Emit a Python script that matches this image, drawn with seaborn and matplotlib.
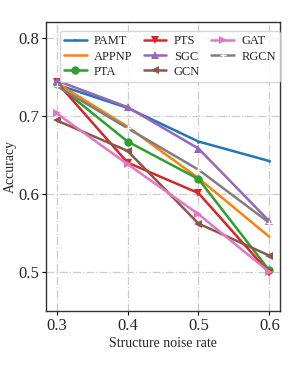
import numpy as np
import pandas as pd
import matplotlib
matplotlib.use('Agg')
import matplotlib.pyplot as plt
import seaborn as sns

# Data
noise_rate = [0.3, 0.4, 0.5, 0.6]
methods = ['PAMT', 'APPNP', 'PTA', 'PTS', 'SGC', 'GCN', 'GAT', 'RGCN']
pamt = [0.740, 0.710, 0.667, 0.642]
appnp = [0.742, 0.686, 0.620, 0.545]
pta = [0.740, 0.667, 0.619, 0.502]
pts = [0.743, 0.640, 0.601, 0.499]
sgc = [0.745, 0.711, 0.658, 0.565]
gcn = [0.694, 0.655, 0.562, 0.521]
gat = [0.703, 0.638, 0.574, 0.500]
rgcn = [0.738, 0.684, 0.631, 0.563]

values = [pamt, appnp, pta, pts, sgc, gcn, gat, rgcn]
markers = ['.', '', 'o', 'v', '^', '<', '>', '+']
msizes = [4, 0, 6, 6, 6, 6, 6, 4]

sns.set_style('whitegrid')
plt.rcParams['font.family'] = 'serif'
plt.rcParams['font.serif'] = ['Liberation Serif', 'Times New Roman', 'DejaVu Serif']

fig = plt.figure(figsize=(3.05, 3.66), dpi=100)
ax = fig.add_axes([0.151, 0.150, 0.767, 0.790])

colors = sns.color_palette('tab10')
for i, name in enumerate(methods):
    df = pd.DataFrame({'x': noise_rate, 'y': values[i]})
    sns.lineplot(data=df, x='x', y='y', ax=ax, color=colors[i],
                 marker=markers[i] if markers[i] else None,
                 markersize=msizes[i], markeredgewidth=1 if markers[i] == '+' else 0,
                 linewidth=1.8, label=name)

ax.set_xlim(0.285, 0.615)
ax.set_ylim(0.45, 0.82)
ax.set_xticks([0.3, 0.4, 0.5, 0.6])
ax.set_yticks([0.5, 0.6, 0.7, 0.8])
ax.tick_params(axis='both', labelsize=12, length=3, color='black', direction='out',
               bottom=True, left=True, pad=2)
ax.set_xlabel('Structure noise rate', fontsize=10, labelpad=2)
ax.set_ylabel('Accuracy', fontsize=10, labelpad=1)

ax.grid(True, linestyle='-.', color='#cccccc', linewidth=0.9)
for s in ax.spines.values():
    s.set_color('#333333')
    s.set_linewidth(1.0)

ax.legend(loc='upper center', ncol=3, fontsize=9, frameon=True,
          handlelength=1.8, columnspacing=0.9, borderpad=0.35,
          labelspacing=0.25, handletextpad=0.6, bbox_to_anchor=(0.53, 0.99))

plt.savefig('out.png', dpi=100)
